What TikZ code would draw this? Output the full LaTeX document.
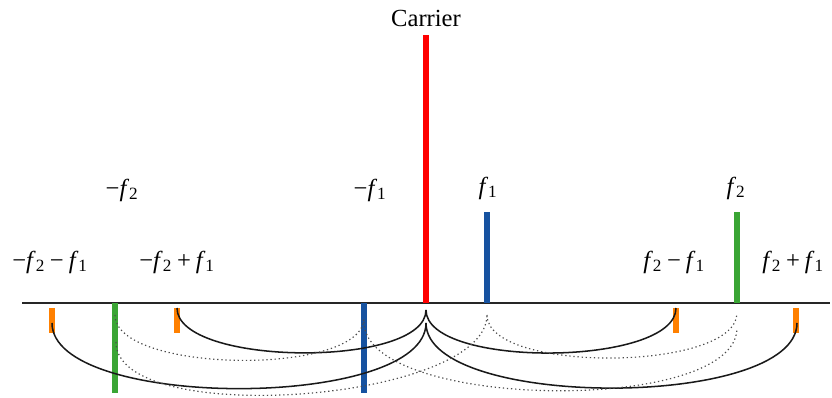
\documentclass[tikz,border=0pt]{standalone}
\usepackage{fontspec}
\setmainfont{Liberation Serif}
\usepackage{tikz}
\usetikzlibrary{positioning}
\definecolor{carred}{RGB}{255,0,0}
\definecolor{fblue}{RGB}{22,82,160}
\definecolor{fgreen}{RGB}{58,165,52}
\definecolor{forange}{RGB}{255,128,0}
\tikzstyle{axis} = [line width=1.3pt, black!85]
\tikzstyle{tone} = [line width=4.4pt]
\tikzstyle{imd} = [line width=4.4pt, forange]
\tikzstyle{mix} = [line width=1.3pt, black!90, out=-90, in=-90, looseness=0.6]
\tikzstyle{mixdot} = [line width=1pt, black!70, dash pattern=on 1.1pt off 2.4pt, out=-90, in=-90, looseness=0.6]
\tikzstyle{lbl} = [font=\fontsize{21}{25}\selectfont, inner sep=0pt]
\newcommand{\fq}[1]{\textit{f}\textsubscript{#1}}
\newcommand{\bop}[1]{\hspace{0.2em}#1\hspace{0.2em}}

\begin{document}
\begin{tikzpicture}[x=0.03cm, y=0.03cm]
\useasboundingbox (0,0) rectangle (832,398);

% Frequency axis
\coordinate (axl) at (22,95);
\coordinate (axr) at (830,95);
\draw[axis] (axl) -- (axr);

% Carrier
\coordinate (car) at (426,95);
\coordinate (cartop) at (426,363);
\draw[tone, carred] (car) -- (cartop);
\node[lbl] (carlbl) at (426,380) {Carrier};

% First order tones
\coordinate (p1) at (487,95);
\coordinate (p1top) at (487,186);
\coordinate (p2) at (737,95);
\coordinate (p2top) at (737,186);
\coordinate (m1) at (364,95);
\coordinate (m1bot) at (364,5);
\coordinate (m2) at (115,95);
\coordinate (m2bot) at (115,5);
\draw[tone, fblue] (p1) -- (p1top);
\draw[tone, fgreen] (p2) -- (p2top);
\draw[tone, fblue] (m1) -- (m1bot);
\draw[tone, fgreen] (m2) -- (m2bot);
\node[lbl] (p1lbl) at (488,210) {\fq{1}};
\node[lbl] (p2lbl) at (736,210) {\fq{2}};
\node[lbl] (m1lbl) at (370,208) {−\fq{1}};
\node[lbl] (m2lbl) at (122,208) {−\fq{2}};

% Intermodulation products
\coordinate (mm) at (52,90);
\coordinate (mmbot) at (52,65);
\coordinate (mp) at (177,90);
\coordinate (mpbot) at (177,65);
\coordinate (pm) at (676,90);
\coordinate (pmbot) at (676,65);
\coordinate (pp) at (796,90);
\coordinate (ppbot) at (796,65);
\foreach \t in {mm, mp, pm, pp}
  \draw[imd] (\t) -- (\t bot);
\node[lbl] (mmlbl) at (50,136) {−\fq{2}\bop{−}\fq{1}};
\node[lbl] (mplbl) at (177,136) {−\fq{2}\bop{+}\fq{1}};
\node[lbl] (pmlbl) at (674,136) {\fq{2}\bop{−}\fq{1}};
\node[lbl] (pplbl) at (793,136) {\fq{2}\bop{+}\fq{1}};

% Arc end points
\coordinate (car a) at (426,88);
\coordinate (car b) at (426,75);
\coordinate (mm a) at (52,75);
\coordinate (pp a) at (797,75);
\coordinate (m2 a) at (115,83);
\coordinate (m2 b) at (116,56);
\coordinate (m1 a) at (364,80);
\coordinate (m1 b) at (364,76);
\coordinate (p1 a) at (487,83);
\coordinate (p2 a) at (737,85);
\coordinate (p2 b) at (737,70);

% Mixing with the carrier
\draw[mix] (mp) to (car a);
\draw[mix] (car a) to (pm);
\draw[mix] (mm a) to (car b);
\draw[mix] (car b) to (pp a);

% Mixing between tones
\draw[mixdot] (m2 a) to (m1 a);
\draw[mixdot] (p1 a) to (p2 a);
\draw[mixdot] (m1 b) to (p2 b);
\draw[mixdot] (m2 b) to (p1 a);
\end{tikzpicture}
\end{document}
